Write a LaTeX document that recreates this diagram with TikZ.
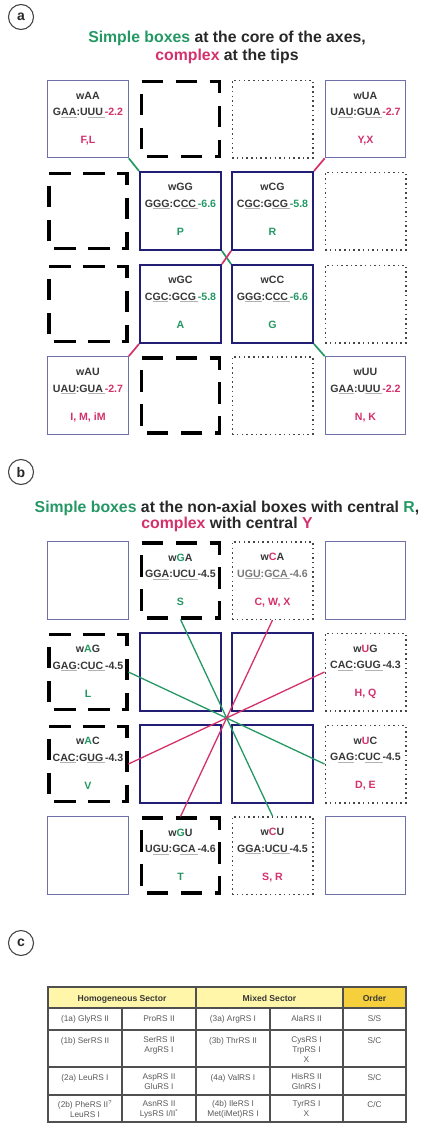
\documentclass[tikz,border=0pt]{standalone}
\usepackage{fontspec}
\setmainfont{Liberation Sans}
\usetikzlibrary{calc}

\definecolor{cgreen}{RGB}{36,152,100}
\definecolor{cpink}{RGB}{212,48,108}
\definecolor{cnavy}{RGB}{34,30,118}
\definecolor{cthin}{RGB}{112,112,168}
\definecolor{ctext}{RGB}{55,55,55}
\definecolor{clight}{RGB}{120,120,120}
\definecolor{ctitle}{RGB}{40,40,40}
\definecolor{cdot}{RGB}{70,70,70}
\definecolor{cring}{RGB}{70,70,70}
\definecolor{cline}{RGB}{80,80,80}
\definecolor{ctbl}{RGB}{90,90,90}
\definecolor{hdrlight}{RGB}{255,246,170}
\definecolor{hdrgold}{RGB}{245,208,60}

% grey underline under part of a codon
\newcommand\cdu[1]{\setbox0\hbox{#1}\rlap{\textcolor{gray!60}{\rule[-1.8pt]{\wd0}{0.6pt}}}\box0}

% a box with its three lines of text: name, x, y, style, title, codon pair, amino acids
\newcommand\cell[7]{%
  \node[#4] (#1) at (#2,#3) {};
  \node[celltxt] (#1-n) at ($(#1.north)+(0,19.5)$) {#5};
  \node[celltxt] (#1-c) at ($(#1.north)+(0,36)$) {#6};
  \node[celltxt] (#1-a) at ($(#1.north)+(0,64)$) {#7};
}

\tikzset{
  x=1pt, y=-1pt,
  cellbox/.style={rectangle, minimum width=80.5pt, minimum height=77.5pt, inner sep=0pt},
  thinbox/.style={cellbox, draw=cthin, line width=1.1pt},
  corebox/.style={cellbox, draw=cnavy, line width=2.4pt},
  dashbox/.style={cellbox},
  dashedge/.style={draw=black, line width=3.8pt, dash pattern=on 21.5pt off 12.5pt},
  dotbox/.style={cellbox, draw=cdot, line width=1.5pt, dash pattern=on 1.5pt off 3.2pt},
  celltxt/.style={font=\bfseries\fontsize{10.6}{12}\selectfont, text=ctext, inner sep=0pt, anchor=base},
  link/.style={line width=1.3pt},
  shortlink/.style={line width=1.7pt},
  ttl/.style={font=\bfseries\fontsize{15.8}{18}\selectfont, text=ctitle, inner sep=0pt, anchor=base},
  panel/.style={circle, draw=cring, line width=1.1pt, minimum size=25pt, inner sep=0pt,
    font=\bfseries\fontsize{14}{16}\selectfont, text=ctitle},
  tblline/.style={draw=cline, line width=1.3pt},
  tblhead/.style={font=\bfseries\fontsize{8.6}{10}\selectfont, text=ctext, inner sep=0pt, anchor=base},
  tbltxt/.style={font=\fontsize{8.3}{10}\selectfont, text=ctbl, inner sep=0pt, anchor=north,
    align=center, execute at begin node=\strut},
}

\begin{document}
\begin{tikzpicture}
\useasboundingbox (0,0) rectangle (426,1124);

% ---------------- panel a ----------------
\node[panel] (pa) at (21,17) {a};
\node[ttl] (ta1) at (227,43) {\textcolor{cgreen}{Simple boxes} at the core of the axes,};
\node[ttl] (ta2) at (227,60) {\textcolor{cpink}{complex} at the tips};

\cell{awAA}{88}{119}{thinbox}{wAA}{G\cdu{AA}:U\cdu{UU\,}\textcolor{cpink}{-2.2}}{\textcolor{cpink}{F,L}}
\node[dashbox] (aD1) at (180.5,119) {};
\node[dotbox] (aP1) at (272.5,119) {};
\cell{awUA}{365.5}{119}{thinbox}{wUA}{U\cdu{AU}:G\cdu{UA\,}\textcolor{cpink}{-2.7}}{\textcolor{cpink}{Y,X}}

\node[dashbox] (aD2) at (88,211) {};
\cell{awGG}{180.5}{211}{corebox}{wGG}{G\cdu{GG}:C\cdu{CC\,}\textcolor{cgreen}{-6.6}}{\textcolor{cgreen}{P}}
\cell{awCG}{272.5}{211}{corebox}{wCG}{C\cdu{GC}:G\cdu{CG\,}\textcolor{cgreen}{-5.8}}{\textcolor{cgreen}{R}}
\node[dotbox] (aP2) at (365.5,211) {};

\node[dashbox] (aD3) at (88,304) {};
\cell{awGC}{180.5}{304}{corebox}{wGC}{C\cdu{GC}:G\cdu{CG\,}\textcolor{cgreen}{-5.8}}{\textcolor{cgreen}{A}}
\cell{awCC}{272.5}{304}{corebox}{wCC}{G\cdu{GG}:C\cdu{CC\,}\textcolor{cgreen}{-6.6}}{\textcolor{cgreen}{G}}
\node[dotbox] (aP3) at (365.5,304) {};

\cell{awAU}{88}{395.5}{thinbox}{wAU}{U\cdu{AU}:G\cdu{UA\,}\textcolor{cpink}{-2.7}}{\textcolor{cpink}{I, M, iM}}
\node[dashbox] (aD4) at (180.5,395.5) {};
\node[dotbox] (aP4) at (272.5,395.5) {};
\cell{awUU}{365.5}{395.5}{thinbox}{wUU}{G\cdu{AA}:U\cdu{UU\,}\textcolor{cpink}{-2.2}}{\textcolor{cpink}{N, K}}

\draw[shortlink, cgreen] (awAA.south east) -- (awGG.north west);
\draw[shortlink, cpink] (awUA.south west) -- (awCG.north east);
\draw[shortlink, cpink] (awGC.south west) -- (awAU.north east);
\draw[shortlink, cgreen] (awCC.south east) -- (awUU.north west);
\draw[shortlink, cgreen] (awGG.south east) -- (awCC.north west);
\draw[shortlink, cpink] (awCG.south west) -- (awGC.north east);

% ---------------- panel b ----------------
\node[panel] (pb) at (21,472) {b};
\node[ttl] (tb1) at (227,512) {\textcolor{cgreen}{Simple boxes} at the non-axial boxes with central \textcolor{cgreen}{R},};
\node[ttl] (tb2) at (227,528.5) {\textcolor{cpink}{complex} with central \textcolor{cpink}{Y}};

\node[thinbox] (bT1) at (88,580.5) {};
\cell{bwGA}{180.5}{580.5}{dashbox}{w\textcolor{cgreen}{G}A}{G\cdu{GA}:U\cdu{CU\,}-4.5}{\textcolor{cgreen}{S}}
\cell{bwCA}{272.5}{580.5}{dotbox}{w\textcolor{cpink}{C}A}{\color{clight}U\cdu{GU}:G\cdu{CA\,}-4.6}{\textcolor{cpink}{C, W, X}}
\node[thinbox] (bT2) at (365.5,580.5) {};

\cell{bwAG}{88}{672}{dashbox}{w\textcolor{cgreen}{A}G}{G\cdu{AG}:C\cdu{UC\,}-4.5}{\textcolor{cgreen}{L}}
\node[corebox] (bC1) at (180.5,672) {};
\node[corebox] (bC2) at (272.5,672) {};
\cell{bwUG}{365.5}{672}{dotbox}{w\textcolor{cpink}{U}G}{C\cdu{AC}:G\cdu{UG\,}-4.3}{\textcolor{cpink}{H, Q}}

\cell{bwAC}{88}{764}{dashbox}{w\textcolor{cgreen}{A}C}{C\cdu{AC}:G\cdu{UG\,}-4.3}{\textcolor{cgreen}{V}}
\node[corebox] (bC3) at (180.5,764) {};
\node[corebox] (bC4) at (272.5,764) {};
\cell{bwUC}{365.5}{764}{dotbox}{w\textcolor{cpink}{U}C}{G\cdu{AG}:C\cdu{UC\,}-4.5}{\textcolor{cpink}{D, E}}

\node[thinbox] (bT3) at (88,855.5) {};
\cell{bwGU}{180.5}{855.5}{dashbox}{w\textcolor{cgreen}{G}U}{U\cdu{GU}:G\cdu{CA\,}-4.6}{\textcolor{cgreen}{T}}
\cell{bwCU}{272.5}{855.5}{dotbox}{w\textcolor{cpink}{C}U}{G\cdu{GA}:U\cdu{CU\,}-4.5}{\textcolor{cpink}{S, R}}
\node[thinbox] (bT4) at (365.5,855.5) {};

% heavy dashed borders, traced clockwise from the top-left corner
\foreach \n in {aD1,aD2,aD3,aD4,bwGA,bwAG,bwAC,bwGU}
  \draw[dashedge] ($(\n.north west)+(1.5,1.5)$) -- ($(\n.north east)+(-1.5,1.5)$)
    -- ($(\n.south east)+(-1.5,-1.5)$) -- ($(\n.south west)+(1.5,-1.5)$) -- cycle;

\draw[link, cgreen] (bwGA.south) -- (bwCU.north);
\draw[link, cpink] (bwCA.south) -- (bwGU.north);
\draw[link, cgreen] (bwAG.east) -- (bwUC.west);
\draw[link, cpink] (bwUG.west) -- (bwAC.east);

% ---------------- panel c ----------------
\node[panel] (pc) at (21,943) {c};

\fill[hdrlight] (48,987) rectangle (343,1008);
\fill[hdrgold] (343,987) rectangle (406,1008);
\draw[tblline] (48,987) rectangle (406,1122);
\foreach \yy in {1008,1030,1067,1095} \draw[tblline] (48,\yy) -- (406,\yy);
\foreach \xx in {122,270} \draw[tblline] (\xx,1008) -- (\xx,1122);
\foreach \xx in {196,343} \draw[tblline] (\xx,987) -- (\xx,1122);

\node[tblhead] (h1) at (122,1001) {Homogeneous Sector};
\node[tblhead] (h2) at (269.5,1001) {Mixed Sector};
\node[tblhead] (h3) at (374.5,1001) {Order};

\node[tbltxt] (r1c1) at (85,1014) {(1a) GlyRS II};
\node[tbltxt] (r1c2) at (159,1014) {ProRS II};
\node[tbltxt] (r1c3) at (233,1014) {(3a) ArgRS I};
\node[tbltxt] (r1c4) at (306.5,1014) {AlaRS II};
\node[tbltxt] (r1c5) at (374.5,1014) {S/S};

\node[tbltxt] (r2c1) at (85,1036) {(1b) SerRS II};
\node[tbltxt] (r2c2) at (159,1036) {SerRS II\\ArgRS I};
\node[tbltxt] (r2c3) at (233,1036) {(3b) ThrRS II};
\node[tbltxt] (r2c4) at (306.5,1036) {CysRS I\\TrpRS I\\X};
\node[tbltxt] (r2c5) at (374.5,1036) {S/C};

\node[tbltxt] (r3c1) at (85,1073) {(2a) LeuRS I};
\node[tbltxt] (r3c2) at (159,1073) {AspRS II\\GluRS I};
\node[tbltxt] (r3c3) at (233,1073) {(4a) ValRS I};
\node[tbltxt] (r3c4) at (306.5,1073) {HisRS II\\GlnRS I};
\node[tbltxt] (r3c5) at (374.5,1073) {S/C};

\node[tbltxt] (r4c1) at (85,1100) {(2b) PheRS II\textsuperscript{?}\\LeuRS I};
\node[tbltxt] (r4c2) at (159,1100) {AsnRS II\\LysRS I/II\textsuperscript{*}};
\node[tbltxt] (r4c3) at (233,1100) {(4b) IleRS I\\Met(iMet)RS I};
\node[tbltxt] (r4c4) at (306.5,1100) {TyrRS I\\X};
\node[tbltxt] (r4c5) at (374.5,1100) {C/C};
\end{tikzpicture}
\end{document}
